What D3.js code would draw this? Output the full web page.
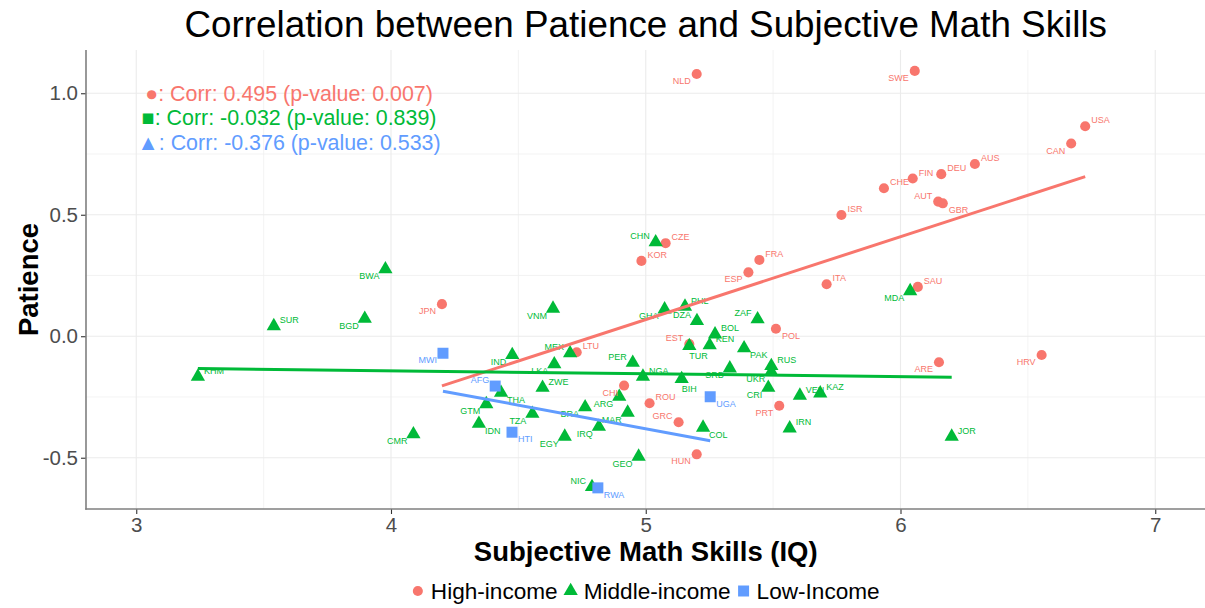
<!DOCTYPE html>
<html>
<head>
<meta charset="utf-8">
<script src="https://cdn.jsdelivr.net/npm/d3@7"></script>
<style>
  body { margin: 0; background: #fff; }
  text { font-family: "Liberation Sans", Arial, sans-serif; }
</style>
</head>
<body>
<div id="main"></div>
<script>
const ctx = {
    w: 1205,
    h: 608,
    left: 85.3,
    right: 1206.2,
    top: 50,
    bottom: 509,
    RED: "#F8766D",
    GREEN: "#00BA38",
    BLUE: "#619CFF",
};

// groups shown in the legend
const GROUPS = ["High-income", "Middle-income", "Low-Income"];

// [country, subjective math skills, patience]
const HIGH_INCOME = [
    ["NLD", 5.200, 1.079], ["SWE", 6.056, 1.092], ["USA", 6.725, 0.864],
    ["CAN", 6.670, 0.793], ["AUS", 6.292, 0.709], ["DEU", 6.160, 0.667],
    ["FIN", 6.048, 0.649], ["CHE", 5.935, 0.609], ["AUT", 6.148, 0.554],
    ["GBR", 6.166, 0.547], ["ISR", 5.768, 0.499], ["CZE", 5.078, 0.383],
    ["KOR", 4.983, 0.310], ["FRA", 5.446, 0.314], ["ESP", 5.403, 0.263],
    ["ITA", 5.710, 0.214], ["POL", 5.511, 0.031], ["EST", 5.171, -0.032],
    ["LTU", 4.729, -0.066], ["CHI", 4.915, -0.203], ["ROU", 5.015, -0.276],
    ["GRC", 5.129, -0.354], ["HUN", 5.200, -0.486], ["PRT", 5.524, -0.286],
    ["SAU", 6.068, 0.203], ["ARE", 6.151, -0.107], ["HRV", 6.554, -0.077],
    ["JPN", 4.200, 0.132],
];

const MIDDLE_INCOME = [
    ["BWA", 3.978, 0.276], ["SUR", 3.540, 0.042], ["BGD", 3.897, 0.072],
    ["KHM", 3.242, -0.166], ["CMR", 4.088, -0.403], ["CHN", 5.039, 0.387],
    ["VNM", 4.636, 0.114], ["IND", 4.476, -0.077], ["MEX", 4.703, -0.070],
    ["LKA", 4.641, -0.115], ["ZWE", 4.595, -0.212], ["THA", 4.432, -0.232],
    ["GTM", 4.374, -0.279], ["IDN", 4.345, -0.360], ["TZA", 4.555, -0.319],
    ["BRA", 4.762, -0.292], ["ARG", 4.896, -0.249], ["MAR", 4.929, -0.314],
    ["IRQ", 4.816, -0.372], ["EGY", 4.682, -0.413], ["GEO", 4.972, -0.495],
    ["PER", 4.949, -0.109], ["NGA", 4.989, -0.166], ["GHA", 5.074, 0.111],
    ["PHL", 5.154, 0.122], ["DZA", 5.201, 0.063], ["ZAF", 5.439, 0.070],
    ["BOL", 5.272, 0.008], ["TUR", 5.171, -0.040], ["KEN", 5.251, -0.037],
    ["PAK", 5.386, -0.049], ["RUS", 5.493, -0.122], ["SRB", 5.330, -0.132],
    ["BIH", 5.141, -0.176], ["UKR", 5.493, -0.146], ["CRI", 5.481, -0.212],
    ["VEN", 5.605, -0.244], ["KAZ", 5.685, -0.235], ["COL", 5.225, -0.376],
    ["IRN", 5.565, -0.379], ["MDA", 6.038, 0.186], ["JOR", 6.201, -0.413],
    ["NIC", 4.789, -0.620],
];

const LOW_INCOME = [
    ["MWI", 4.204, -0.070], ["AFG", 4.409, -0.205], ["HTI", 4.475, -0.395],
    ["UGA", 5.253, -0.249], ["RWA", 4.812, -0.624],
];

// fitted lines per group: [x0, y0, x1, y1]
const FIT_HIGH = [4.200, -0.2045, 6.725, 0.657];
const FIT_MIDDLE = [3.242, -0.133, 6.201, -0.169];
const FIT_LOW = [4.204, -0.226, 5.253, -0.430];

// correlation annotations (the symbols are as in the original)
const CORR_TEXT = [
    "\u25CF: Corr: 0.495 (p-value: 0.007)",
    "\u25A0: Corr: -0.032 (p-value: 0.839)",
    "\u25B2: Corr: -0.376 (p-value: 0.533)",
];
const CORR_X = 3.6;
const CORR_Y = [1.0, 0.9, 0.8];

const X_TICKS = [3, 4, 5, 6, 7];
const X_MINOR = [3.5, 4.5, 5.5, 6.5];
const Y_TICKS = [-0.5, 0, 0.5, 1.0];
const Y_MINOR = [-0.25, 0.25, 0.75];

// which side of the mark each country label sits on
const LABEL_SIDE = {
    NLD: "sw", SWE: "sw", USA: "ne", CAN: "sw", AUS: "ne", DEU: "ne", FIN: "ne",
    CHE: "ne", AUT: "nw", GBR: "se", ISR: "ne", CZE: "ne", KOR: "ne", FRA: "ne",
    ESP: "sw", ITA: "ne", POL: "se", EST: "nw", LTU: "ne", CHI: "sw", ROU: "ne",
    GRC: "nw", HUN: "sw", PRT: "sw", SAU: "ne", ARE: "sw", HRV: "sw", JPN: "sw",
    BWA: "sw", SUR: "ne", BGD: "sw", KHM: "ne", CMR: "sw", CHN: "nw", VNM: "sw",
    IND: "sw", MEX: "nw", LKA: "sw", ZWE: "ne", THA: "se", GTM: "sw", IDN: "se",
    TZA: "sw", BRA: "sw", ARG: "sw", MAR: "sw", IRQ: "sw", EGY: "sw", GEO: "sw",
    PER: "nw", NGA: "ne", GHA: "sw", PHL: "ne", DZA: "nw", ZAF: "nw", BOL: "ne",
    TUR: "s", KEN: "ne", PAK: "se", RUS: "ne", SRB: "sw", BIH: "s", UKR: "sw",
    CRI: "sw", VEN: "ne", KAZ: "ne", COL: "se", IRN: "ne", MDA: "sw", JOR: "ne",
    NIC: "nw", MWI: "sw", AFG: "nw", HTI: "se", UGA: "se", RWA: "se",
};

const x = d3.scaleLinear().domain([2.8, 7.2]).range([ctx.left, ctx.right]);
const y = d3.scaleLinear().domain([-0.711, 1.178]).range([ctx.bottom, ctx.top]);

const SYMBOLS = {
    "High-income": d3.symbol().type(d3.symbolCircle).size(80),
    "Middle-income": d3.symbol().type(d3.symbolTriangle).size(88),
    "Low-Income": d3.symbol().type(d3.symbolSquare).size(121),
};
const COLORS = {
    "High-income": ctx.RED,
    "Middle-income": ctx.GREEN,
    "Low-Income": ctx.BLUE,
};

function labelOffset(side) {
    switch (side) {
        case "ne": return {dx: 6, dy: -6, anchor: "start"};
        case "nw": return {dx: -6, dy: -6, anchor: "end"};
        case "se": return {dx: 6, dy: 7, anchor: "start"};
        case "s": return {dx: 0, dy: 10, anchor: "start"};
        default: return {dx: -6, dy: 7, anchor: "end"};
    }
}

function drawGrid(svgEl) {
    let grid = svgEl.append("g").attr("id", "grid");
    grid.selectAll("line.xminor")
        .data(X_MINOR).enter().append("line")
        .attr("x1", d => x(d)).attr("x2", d => x(d))
        .attr("y1", ctx.top).attr("y2", ctx.bottom)
        .style("stroke", "#f0f0f0").style("stroke-width", 0.8);
    grid.selectAll("line.yminor")
        .data(Y_MINOR).enter().append("line")
        .attr("x1", ctx.left).attr("x2", ctx.w)
        .attr("y1", d => y(d)).attr("y2", d => y(d))
        .style("stroke", "#f0f0f0").style("stroke-width", 0.8);
    grid.selectAll("line.xmajor")
        .data(X_TICKS).enter().append("line")
        .attr("x1", d => x(d)).attr("x2", d => x(d))
        .attr("y1", ctx.top).attr("y2", ctx.bottom)
        .style("stroke", "#ebebeb").style("stroke-width", 1.1);
    grid.selectAll("line.ymajor")
        .data(Y_TICKS).enter().append("line")
        .attr("x1", ctx.left).attr("x2", ctx.w)
        .attr("y1", d => y(d)).attr("y2", d => y(d))
        .style("stroke", "#ebebeb").style("stroke-width", 1.1);
}

function drawAxes(svgEl) {
    let xAxis = d3.axisBottom(x).tickValues(X_TICKS).tickSize(5).tickPadding(3)
                  .tickFormat(d3.format("d"));
    let yAxis = d3.axisLeft(y).tickValues(Y_TICKS).tickSize(5).tickPadding(3)
                  .tickFormat(d => d3.format(".1f")(d).replace("\u2212", "-"));

    let gx = svgEl.append("g").attr("transform", `translate(0,${ctx.bottom})`).call(xAxis);
    let gy = svgEl.append("g").attr("transform", `translate(${ctx.left + 0.7},0)`).call(yAxis);
    [gx, gy].forEach(g => {
        g.select(".domain").remove();
        g.selectAll(".tick line").style("stroke", "#333").style("stroke-width", 1.1);
        g.selectAll(".tick text")
         .style("font-family", "'Liberation Sans', Arial, sans-serif")
         .style("font-size", "20.5px")
         .style("fill", "#4d4d4d");
    });
    // axis lines
    svgEl.append("line")
         .attr("x1", ctx.left + 0.7).attr("x2", ctx.left + 0.7)
         .attr("y1", ctx.top).attr("y2", ctx.bottom + 0.7)
         .style("stroke", "#7f7f7f").style("stroke-width", 1.6);
    svgEl.append("line")
         .attr("x1", ctx.left).attr("x2", ctx.w)
         .attr("y1", ctx.bottom).attr("y2", ctx.bottom)
         .style("stroke", "#7f7f7f").style("stroke-width", 1.6);
}

function drawPoints(svgEl) {
    let all = [];
    HIGH_INCOME.forEach(d => all.push({c: d[0], x: d[1], y: d[2], g: GROUPS[0]}));
    MIDDLE_INCOME.forEach(d => all.push({c: d[0], x: d[1], y: d[2], g: GROUPS[1]}));
    LOW_INCOME.forEach(d => all.push({c: d[0], x: d[1], y: d[2], g: GROUPS[2]}));

    svgEl.append("g").attr("id", "points")
         .selectAll("path")
         .data(all).enter().append("path")
         .attr("d", d => SYMBOLS[d.g]())
         .attr("transform", d => `translate(${x(d.x)},${y(d.y)})`)
         .style("fill", d => COLORS[d.g]);

    svgEl.append("g").attr("id", "labels")
         .selectAll("text")
         .data(all).enter().append("text")
         .each(function(d) {
             let o = labelOffset(LABEL_SIDE[d.c]);
             d3.select(this)
               .attr("x", x(d.x) + o.dx)
               .attr("y", y(d.y) + o.dy)
               .attr("dy", "0.35em")
               .attr("text-anchor", o.anchor);
         })
         .style("font-size", "9px")
         .style("fill", d => COLORS[d.g])
         .text(d => d.c);

    let fits = [[FIT_HIGH, GROUPS[0]], [FIT_MIDDLE, GROUPS[1]], [FIT_LOW, GROUPS[2]]];
    svgEl.append("g").attr("id", "fits")
         .selectAll("line")
         .data(fits).enter().append("line")
         .attr("x1", d => x(d[0][0])).attr("y1", d => y(d[0][1]))
         .attr("x2", d => x(d[0][2])).attr("y2", d => y(d[0][3]))
         .style("stroke", d => COLORS[d[1]])
         .style("stroke-width", 3);
}

function drawTexts(svgEl) {
    let corrColors = [ctx.RED, ctx.GREEN, ctx.BLUE];
    svgEl.append("g").attr("id", "corr")
         .selectAll("text")
         .data(CORR_TEXT).enter().append("text")
         .attr("x", x(CORR_X))
         .attr("y", (d, i) => y(CORR_Y[i]))
         .attr("dy", "0.36em")
         .attr("text-anchor", "middle")
         .style("font-size", "21.4px")
         .style("fill", (d, i) => corrColors[i])
         .text(d => d);

    svgEl.append("text")
         .attr("x", (ctx.left + ctx.right) / 2).attr("y", 37)
         .attr("text-anchor", "middle")
         .style("font-size", "36.8px")
         .text("Correlation between Patience and Subjective Math Skills");

    svgEl.append("text")
         .attr("x", (ctx.left + ctx.right) / 2).attr("y", 561)
         .attr("text-anchor", "middle")
         .style("font-size", "27.5px").style("font-weight", "bold")
         .text("Subjective Math Skills (IQ)");

    svgEl.append("text")
         .attr("transform", `translate(38,${(ctx.top + ctx.bottom) / 2}) rotate(-90)`)
         .attr("text-anchor", "middle")
         .style("font-size", "27.5px").style("font-weight", "bold")
         .text("Patience");
}

function drawLegend(svgEl) {
    let leg = svgEl.append("g").attr("id", "legend");
    let cx = 0;
    GROUPS.forEach((g, i) => {
        let item = leg.append("g");
        item.append("path")
            .attr("d", SYMBOLS[g]())
            .attr("transform", `translate(${cx},0)`)
            .style("fill", COLORS[g]);
        let t = item.append("text")
            .attr("x", cx + 13).attr("y", 0).attr("dy", "0.36em")
            .style("font-size", "22.6px")
            .text(g);
        cx += 13 + t.node().getComputedTextLength() + 13;
    });
    let total = cx - 13 + 6;
    leg.attr("transform", `translate(${(ctx.left + ctx.right) / 2 - total / 2 + 6},591)`);
}

function createViz() {
    let svgEl = d3.select("#main").append("svg")
                  .attr("width", ctx.w).attr("height", ctx.h);
    svgEl.append("rect").attr("width", ctx.w).attr("height", ctx.h).attr("fill", "#fff");
    drawGrid(svgEl);
    drawAxes(svgEl);
    drawPoints(svgEl);
    drawTexts(svgEl);
    drawLegend(svgEl);
}

createViz();
</script>
</body>
</html>
